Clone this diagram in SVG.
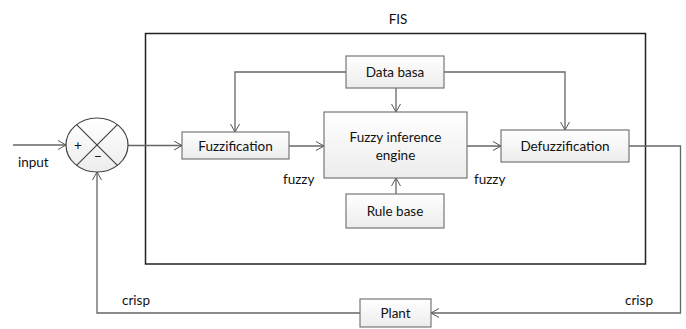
<svg xmlns="http://www.w3.org/2000/svg" width="686" height="329" viewBox="0 0 686 329">
<defs>
<linearGradient id="g" x1="0" y1="0" x2="0" y2="1"><stop offset="0" stop-color="#ffffff"/><stop offset="1" stop-color="#ececec"/></linearGradient>
<marker id="a" markerWidth="10" markerHeight="10" refX="9" refY="5" orient="auto" markerUnits="userSpaceOnUse"><path d="M1,0.5 L9,5 L1,9.5" fill="none" stroke="#555" stroke-width="1"/></marker>
<style>
.box{fill:url(#g);stroke:#777;stroke-width:1.2}
.c{fill:none;stroke:#666;stroke-width:1.3}
text{font-family:Lato,"Liberation Sans",sans-serif;font-size:13.5px;fill:#111}
.m{text-anchor:middle}
</style>
</defs>
<g id="fis">
<rect x="145.5" y="33.5" width="500" height="230.5" fill="none" stroke="#222" stroke-width="1.5"/>
<text x="398" y="24" class="m" font-size="15">FIS</text>
</g>
<g id="connectors">
<line class="c" x1="13" y1="145" x2="66" y2="145" marker-end="url(#a)"/>
<line class="c" x1="128" y1="145.5" x2="182" y2="145.5" marker-end="url(#a)"/>
<line class="c" x1="289" y1="146" x2="324" y2="146" marker-end="url(#a)"/>
<line class="c" x1="467" y1="146" x2="501" y2="146" marker-end="url(#a)"/>
<polyline class="c" points="346,72 235,72 235,132" marker-end="url(#a)"/>
<polyline class="c" points="444,72 565,72 565,130" marker-end="url(#a)"/>
<line class="c" x1="396" y1="88" x2="396" y2="112" marker-end="url(#a)"/>
<line class="c" x1="396" y1="194" x2="396" y2="178" marker-end="url(#a)"/>
<polyline class="c" points="629,146 680.5,146 680.5,313 431,313" marker-end="url(#a)"/>
<polyline class="c" points="360,313 97,313 97,172" marker-end="url(#a)"/>
</g>
<g id="sum">
<ellipse cx="97" cy="145" rx="31" ry="27" fill="url(#g)" stroke="#444" stroke-width="1.2"/>
<line x1="76.6" y1="124.6" x2="117.4" y2="165.4" stroke="#444" stroke-width="1.2"/>
<line x1="117.4" y1="124.6" x2="76.6" y2="165.4" stroke="#444" stroke-width="1.2"/>
<text x="78" y="150" class="m" font-size="12">+</text>
<text x="98" y="161" class="m" font-size="13">−</text>
</g>
<g id="fuzzification">
<rect class="box" x="182" y="132" width="107" height="27"/>
<text x="235.5" y="150.5" class="m">Fuzzification</text>
</g>
<g id="databasa">
<rect class="box" x="346" y="56" width="98" height="32"/>
<text x="395" y="76.5" class="m">Data basa</text>
</g>
<g id="fie">
<rect class="box" x="324" y="112" width="143" height="66"/>
<text x="395.5" y="142" class="m">Fuzzy inference</text>
<text x="395.5" y="160" class="m">engine</text>
</g>
<g id="rulebase">
<rect class="box" x="346" y="194" width="98" height="34"/>
<text x="395" y="216" class="m">Rule base</text>
</g>
<g id="defuzzification">
<rect class="box" x="501" y="130" width="128" height="32"/>
<text x="565" y="150.5" class="m">Defuzzification</text>
</g>
<g id="plant">
<rect class="box" x="360" y="299" width="71" height="28"/>
<text x="395.5" y="318" class="m">Plant</text>
</g>
<g id="labels">
<text x="18" y="167">input</text>
<text x="283" y="184">fuzzy</text>
<text x="474" y="184">fuzzy</text>
<text x="122" y="305">crisp</text>
<text x="625" y="305">crisp</text>
</g>
</svg>
